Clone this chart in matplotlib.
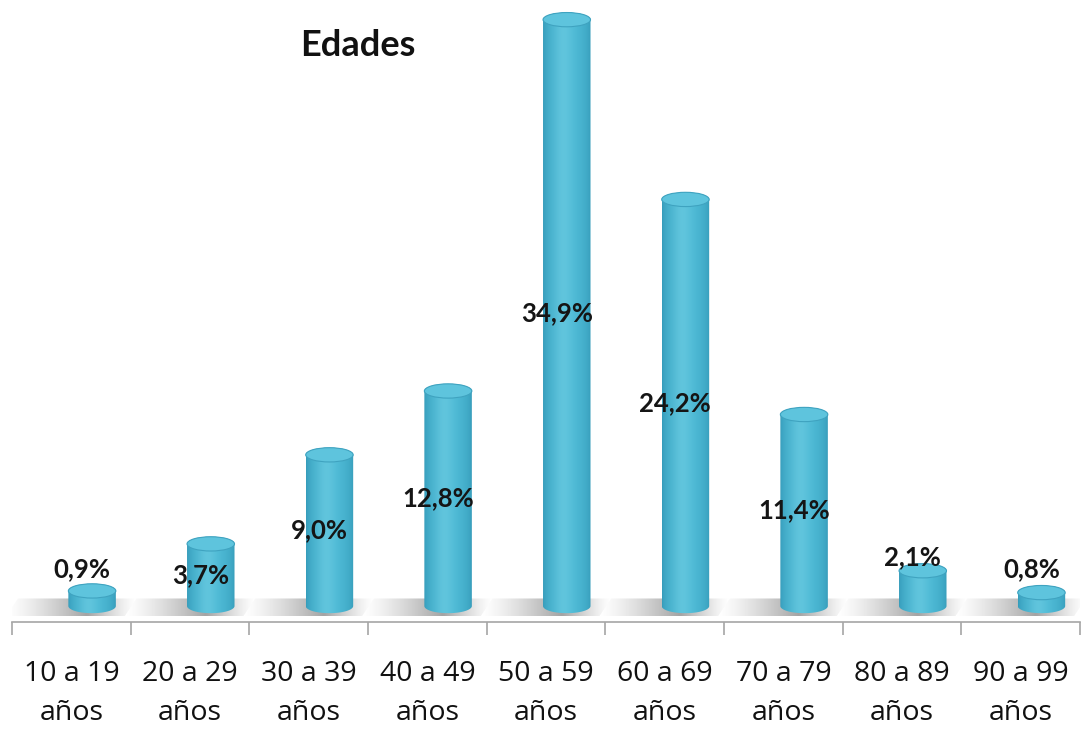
import numpy as np
import matplotlib.pyplot as plt
from matplotlib.patches import Polygon, Ellipse
from matplotlib.colors import to_rgb
from matplotlib.transforms import blended_transform_factory

# Age distribution
grupos = ['10 a 19', '20 a 29', '30 a 39', '40 a 49', '50 a 59',
          '60 a 69', '70 a 79', '80 a 89', '90 a 99']
porcentajes = [0.9, 3.7, 9.0, 12.8, 34.9, 24.2, 11.4, 2.1, 0.8]
etiquetas = ['0,9%', '3,7%', '9,0%', '12,8%', '34,9%', '24,2%', '11,4%', '2,1%', '0,8%']

plt.rcParams['font.family'] = ['Lato', 'DejaVu Sans']

W, H = 1086, 729
fig = plt.figure(figsize=(W / 100, H / 100), dpi=100)
ax = fig.add_axes([12 / W, 107 / H, 1068 / W, 622 / H])
ax.set_xlim(-0.5, len(grupos) - 0.5)
ax.set_ylim(-0.95, 36.07)

bar_w = 0.4      # cylinder width (category units)
off = 0.175      # depth offset of the cylinders
cap_h = 0.85     # ellipse height in data units

# horizontal shading profile for the cylinders
n = 200
u = np.linspace(0, 1, n)
dark = np.array(to_rgb('#3398b7'))
mid = np.array(to_rgb('#4dbad5'))
light = np.array(to_rgb('#74d0e5'))
prof = np.sin(np.pi * u) ** 0.5
hl = np.exp(-((u - 0.42) / 0.2) ** 2)
grad = dark + (mid - dark) * prof[:, None]
grad = grad + (light - mid) * (0.5 * hl[:, None])
grad = np.clip(grad, 0, 1)[None, :, :]

# floor shadow band under every category
for i in range(len(grupos)):
    x = np.linspace(0, 1, 100)
    a = np.clip(np.where(x < 0.62, x / 0.62, (1 - x) / 0.38), 0, 1) ** 1.3 * 0.8
    img = np.zeros((1, 100, 4))
    img[..., :3] = 0.55
    img[..., 3] = a
    x0 = i - 0.5
    im = ax.imshow(img, extent=[x0 - 0.05, x0 + 1.05, -0.6, 0.45], aspect='auto',
                   interpolation='bilinear', zorder=1)
    shadow = Polygon([(x0 - 0.05, -0.6), (x0 + 0.95, -0.6), (x0 + 1.05, 0.45),
                      (x0 + 0.05, 0.45)], closed=True, transform=ax.transData)
    im.set_clip_path(shadow)

t_bot = np.linspace(np.pi, 2 * np.pi, 60)
t_top = np.linspace(0, np.pi, 60)
for i, h in enumerate(porcentajes):
    c = i + off
    x0, x1 = c - bar_w / 2, c + bar_w / 2
    # body outline: lower half of the base ellipse, then upper half of the top one
    bottom = np.column_stack([c + bar_w / 2 * np.cos(t_bot), cap_h / 2 * np.sin(t_bot)])
    top = np.column_stack([c + bar_w / 2 * np.cos(t_top), h + cap_h / 2 * np.sin(t_top)])
    body = Polygon(np.vstack([bottom, top]), closed=True, transform=ax.transData)
    im = ax.imshow(grad, extent=[x0, x1, -cap_h, h + cap_h], aspect='auto',
                   interpolation='bilinear', zorder=3)
    im.set_clip_path(body)
    ax.add_patch(Ellipse((c, h), bar_w, cap_h, facecolor='#5ec4dd',
                         edgecolor='#3fa3c0', lw=0.8, zorder=4))

    if h < 3:
        y = max(h + 0.8, 2.2)
    else:
        y = h / 2
    ax.text(i + 0.09, y, etiquetas[i], ha='center', va='center', fontsize=18.5,
            fontweight='bold', color='#151515', zorder=5)

# category axis
for side in ['left', 'right', 'top']:
    ax.spines[side].set_visible(False)
ax.spines['bottom'].set_color('#a6a6a6')
ax.spines['bottom'].set_linewidth(1.2)
ax.set_yticks([])
ax.set_xticks(np.arange(-0.5, len(grupos)))
ax.set_xticklabels([])
ax.tick_params(axis='x', length=9, color='#a6a6a6', width=1.2)

trans = blended_transform_factory(ax.transData, fig.transFigure)
for i, g in enumerate(grupos):
    ax.text(i, 1 - 681 / H, g, transform=trans, ha='center', va='baseline',
            fontsize=20.5, color='#111111', fontfamily=['Open Sans', 'DejaVu Sans'])
    ax.text(i, 1 - 720 / H, 'años', transform=trans, ha='center', va='baseline',
            fontsize=20.5, color='#111111', fontfamily=['Open Sans', 'DejaVu Sans'])

fig.text(358 / W, 1 - 45 / H, 'Edades', ha='center', va='center',
         fontsize=26, fontweight='bold', color='#111111')

fig.savefig('out.png', dpi=100)
